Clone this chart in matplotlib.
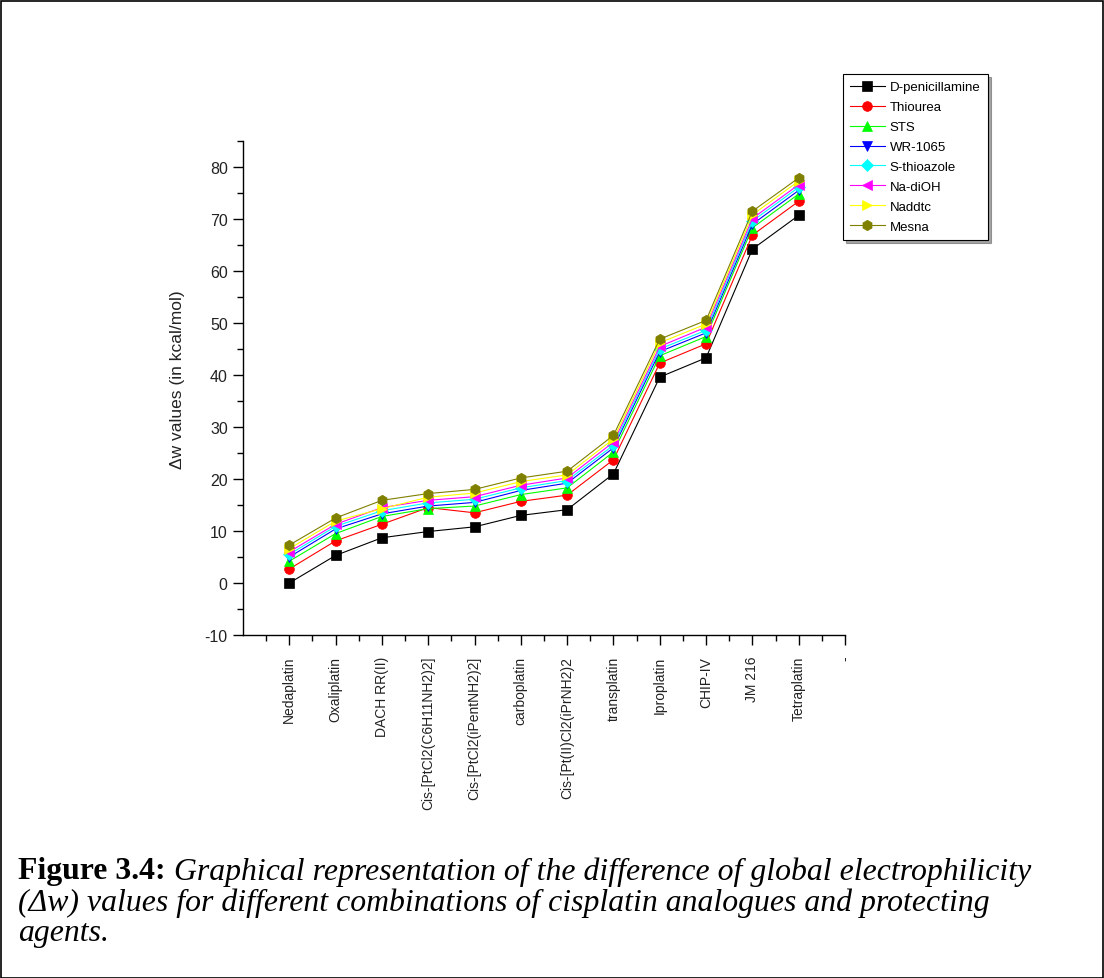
import matplotlib
matplotlib.use("Agg")
import matplotlib.pyplot as plt
from matplotlib.patches import Rectangle
import numpy as np

# ---------------- data ----------------
compounds = ["Nedaplatin", "Oxaliplatin", "DACH RR(II)", "Cis-[PtCl2(C6H11NH2)2]",
             "Cis-[PtCl2(iPentNH2)2]", "carboplatin", "Cis-[Pt(II)Cl2(iPrNH2)2",
             "transplatin", "Iproplatin", "CHIP-IV", "JM 216", "Tetraplatin"]
extra_tick_label = "-"

agents = ["D-penicillamine", "Thiourea", "STS", "WR-1065", "S-thioazole",
          "Na-diOH", "Naddtc", "Mesna"]

d_penicillamine = [0.0, 5.3, 8.7, 9.9, 10.8, 13.0, 14.1, 21.0, 39.6, 43.3, 64.2, 70.7]
thiourea        = [2.7, 8.1, 11.3, 14.5, 13.5, 15.7, 16.9, 23.7, 42.3, 46.0, 66.9, 73.4]
sts             = [4.2, 9.5, 12.8, 14.3, 14.8, 17.0, 18.3, 25.2, 43.7, 47.4, 68.3, 74.8]
wr_1065         = [5.0, 10.4, 13.3, 14.8, 15.5, 17.8, 19.2, 26.0, 44.5, 48.1, 69.0, 75.5]
s_thioazole     = [5.5, 10.9, 13.9, 15.4, 16.1, 18.3, 19.7, 26.5, 45.0, 48.6, 69.6, 76.1]
na_dioh         = [6.0, 11.3, 14.5, 15.9, 16.6, 18.8, 20.2, 27.1, 45.5, 49.2, 70.1, 76.6]
naddtc          = [6.6, 11.9, 14.3, 16.5, 17.3, 19.5, 20.8, 27.7, 46.2, 49.8, 70.8, 77.3]
mesna           = [7.3, 12.5, 15.9, 17.2, 18.0, 20.2, 21.5, 28.4, 46.9, 50.5, 71.5, 77.9]

series = [d_penicillamine, thiourea, sts, wr_1065, s_thioazole, na_dioh, naddtc, mesna]
colors = ["black", "red", "#00ff00", "blue", "cyan", "magenta", "yellow", "#808000"]
markers = ["s", "o", "^", "v", "D", "<", ">", "h"]
msizes = [6.5, 7, 7, 7, 6, 7, 7, 7.5]

caption_bold = "Figure 3.4:"
caption_line1 = " Graphical representation of the difference of global electrophilicity"
caption_line2 = "(\u0394w) values for different combinations of cisplatin analogues and protecting"
caption_line3 = "agents."

# ---------------- figure ----------------
plt.rcParams["axes.unicode_minus"] = False
W, H = 1104, 979
fig = plt.figure(figsize=(W / 100, H / 100), dpi=100)
fig.patch.set_facecolor("white")

# outer border
fig.patches.append(Rectangle((0.5 / W, 0.5 / H), 1 - 2 / W, 1 - 2 / H,
                             transform=fig.transFigure, fill=False,
                             edgecolor="black", linewidth=1.2))

ax_l, ax_r, ax_b, ax_t = 243, 845, 636, 142
ax = fig.add_axes([ax_l / W, 1 - ax_b / H, (ax_r - ax_l) / W, (ax_b - ax_t) / H])

x = np.arange(1, len(compounds) + 1)
for vals, name, c, m, ms in zip(series, agents, colors, markers, msizes):
    ax.plot(x, vals, color=c, marker=m, markersize=ms, linewidth=0.8,
            markeredgewidth=0.5, markeredgecolor=c, label=name)

ax.set_xlim(0, len(compounds) + 1)
ax.set_ylim(-10, 85)
ax.spines["top"].set_visible(False)
ax.spines["right"].set_visible(False)
for s in ("left", "bottom"):
    ax.spines[s].set_linewidth(1.0)

ax.set_xticks(np.arange(1, len(compounds) + 2))
ax.set_xticklabels(compounds + [extra_tick_label], rotation=90, fontsize=10,
                   family="Liberation Sans", color="#222222")
ax.set_xticks(np.arange(0.5, len(compounds) + 1.5, 1), minor=True)
ax.set_yticks(np.arange(-10, 81, 10))
ax.set_yticks(np.arange(-5, 86, 10), minor=True)
for lab in ax.get_yticklabels():
    lab.set_fontsize(11.5)
    lab.set_family("Liberation Sans")
    lab.set_color("#222222")
ax.tick_params(axis="both", which="major", direction="out", length=7, width=1, pad=4)
ax.tick_params(axis="both", which="minor", direction="out", length=4, width=1)
ax.tick_params(axis="x", which="major", pad=8)

ax.set_ylabel("\u0394w values (in kcal/mol)", fontsize=12.5, family="Liberation Sans",
              color="#222222")
ax.yaxis.set_label_coords(-(ax_l - 185) / (ax_r - ax_l), (ax_b - 380) / (ax_b - ax_t))

leg = ax.legend(loc="upper left", bbox_to_anchor=(843 / W, 1 - 75 / H),
                bbox_transform=fig.transFigure, borderaxespad=0,
                prop={"family": "Liberation Sans", "size": 9.5},
                frameon=True, fancybox=False, shadow=True, framealpha=1,
                edgecolor="black", handlelength=2.6, labelspacing=0.58,
                handletextpad=0.4, borderpad=0.55)
leg.get_frame().set_linewidth(0.8)

# ---------------- caption ----------------
renderer = fig.canvas.get_renderer()
fs = 20
t_b = fig.text(18 / W, 1 - 872 / H, caption_bold, fontsize=fs, family="Liberation Serif",
               weight="bold", va="center", ha="left")
bb = t_b.get_window_extent(renderer)
t_1 = fig.text(bb.x1 / W, 1 - 872 / H, caption_line1, fontsize=fs, family="Liberation Serif",
               style="italic", va="center", ha="left")
bb1 = t_1.get_window_extent(renderer)
target = 1030 - 18
scale = target / (bb1.x1 - bb.x0)
fs2 = fs * scale
t_b.set_fontsize(fs2)
bb = t_b.get_window_extent(renderer)
t_1.set_fontsize(fs2)
t_1.set_x(bb.x1 / W)
fig.text(18 / W, 1 - 903 / H, caption_line2, fontsize=fs2, family="Liberation Serif",
         style="italic", va="center", ha="left")
fig.text(18 / W, 1 - 934 / H, caption_line3, fontsize=fs2, family="Liberation Serif",
         style="italic", va="center", ha="left")

fig.savefig("out.png", dpi=100, facecolor="white")
